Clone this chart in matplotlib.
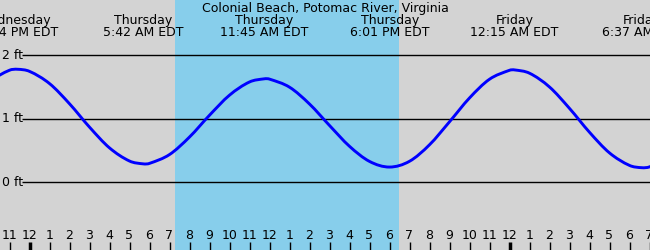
import matplotlib
matplotlib.use("Agg")
import matplotlib.pyplot as plt
import matplotlib.transforms as mtransforms
from matplotlib.path import Path
from matplotlib.patches import PathPatch

# hours after Thursday midnight, tide height in ft
hours = [-2, -1, -0.6, 0, 1, 2, 3, 4, 5, 5.7, 6, 7, 8, 9, 10, 11, 11.75,
         12, 13, 14, 15, 16, 17, 18, 19, 20, 21, 22, 23, 24, 24.25,
         25, 26, 27, 28, 29, 30, 30.62, 31, 32]
height = [1.60, 1.765, 1.78, 1.747, 1.555, 1.237, 0.869, 0.542, 0.335, 0.29, 0.298,
          0.437, 0.713, 1.056, 1.372, 1.580, 1.63,
          1.625, 1.498, 1.233, 0.895, 0.567, 0.329, 0.24, 0.331, 0.591, 0.953,
          1.328, 1.623, 1.764, 1.77,
          1.718, 1.501, 1.164, 0.788, 0.463, 0.266, 0.23, 0.243, 0.391]

# high / low tide events
event_hours = [-0.72, 5.7, 11.75, 18.02, 24.25, 30.62]
event_days = ["Wednesday", "Thursday", "Thursday", "Thursday", "Friday", "Friday"]
event_times = ["11:14 PM EDT", "5:42 AM EDT", "11:45 AM EDT", "6:01 PM EDT",
               "12:15 AM EDT", "6:37 AM EDT"]

daylight = (7.27, 18.47)
ft_levels = [0, 1, 2]
hour_ticks = list(range(-1, 32))
midnights = [0, 24]

title = "Colonial Beach, Potomac River, Virginia"


def smooth_path(xs, ys):
    # draw the readings as a smooth curve (cubic bezier through every point)
    n = len(xs)
    slopes = []
    for i in range(n):
        a, b = max(i - 1, 0), min(i + 1, n - 1)
        slopes.append((ys[b] - ys[a]) / (xs[b] - xs[a]))
    verts = [(xs[0], ys[0])]
    codes = [Path.MOVETO]
    for i in range(n - 1):
        dt = (xs[i + 1] - xs[i]) / 3
        verts += [(xs[i] + dt, ys[i] + slopes[i] * dt),
                  (xs[i + 1] - dt, ys[i + 1] - slopes[i + 1] * dt),
                  (xs[i + 1], ys[i + 1])]
        codes += [Path.CURVE4] * 3
    return Path(verts, codes)


W, H = 650, 250
fig = plt.figure(figsize=(6.5, 2.5), dpi=100)
ax = fig.add_axes([0, 0, 1, 1])
ax.set_axis_off()
fig.patch.set_facecolor("#d3d3d3")

# 20 px per hour, midnight at x=29.5 ; 63.5 px per ft, 0 ft at y=182.3
x0 = -29.5 / 20
ax.set_xlim(x0, x0 + W / 20)
ax.set_ylim(-(H - 182.3) / 63.5, 182.3 / 63.5)

ax.axvspan(daylight[0], daylight[1], color="#87ceeb", lw=0, zorder=0)

for lv in ft_levels:
    ax.hlines(lv, x0 + 22 / 20, x0 + W / 20, color="black", lw=1.0, zorder=1)
    ax.text(2 / W, lv, "%d ft" % lv, transform=mtransforms.blended_transform_factory(ax.transAxes, ax.transData),
            ha="left", va="center", fontsize=9)

ax.add_patch(PathPatch(smooth_path(hours, height), facecolor="none",
                       edgecolor="#0000ff", lw=2.1, zorder=3))

bt = mtransforms.blended_transform_factory(ax.transData, ax.transAxes)
ax.text(0.5, 1 - 11.7 / H, title, transform=ax.transAxes, ha="center", va="baseline", fontsize=9)
for t, d, s in zip(event_hours, event_days, event_times):
    ax.text(t, 1 - 24 / H, d, transform=bt, ha="center", va="baseline", fontsize=9)
    ax.text(t, 1 - 36 / H, s, transform=bt, ha="center", va="baseline", fontsize=9)

for h in hour_ticks:
    lab = str((h - 1) % 12 + 1)
    ax.text(h, 1 - 239.3 / H, lab, transform=bt, ha="center", va="baseline", fontsize=9)
    ax.plot([h, h], [0, 8 / H], transform=bt, color="black",
            lw=2.5 if h in midnights else 1.0, solid_capstyle="butt")

fig.savefig("out.png", dpi=100, facecolor=fig.get_facecolor())
